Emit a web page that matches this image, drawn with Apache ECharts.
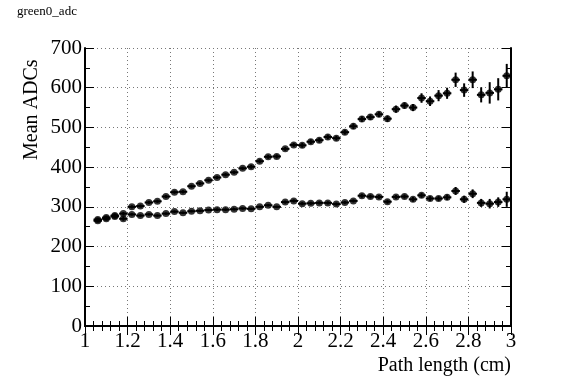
<!DOCTYPE html>
<html>
<head>
<meta charset="utf-8">
<script src="https://cdn.jsdelivr.net/npm/echarts@6/dist/echarts.min.js"></script>
<style>
  html, body { margin: 0; padding: 0; background: #fff; }
  #chart { width: 567px; height: 384px; }
</style>
</head>
<body>
<div id="chart"></div>
<script>
// bin centres (cm)
const pathLength = [
  1.06, 1.10, 1.14, 1.18, 1.22, 1.26, 1.30, 1.34, 1.38, 1.42,
  1.46, 1.50, 1.54, 1.58, 1.62, 1.66, 1.70, 1.74, 1.78, 1.82,
  1.86, 1.90, 1.94, 1.98, 2.02, 2.06, 2.10, 2.14, 2.18, 2.22,
  2.26, 2.30, 2.34, 2.38, 2.42, 2.46, 2.50, 2.54, 2.58, 2.62,
  2.66, 2.70, 2.74, 2.78, 2.82, 2.86, 2.90, 2.94, 2.98
];
const halfBin = 0.02;

// upper branch
const meanUpper = [
  268, 273, 278, 283, 300, 302, 311, 314, 326, 337,
  338, 352, 359, 367, 374, 381, 387, 397, 401, 415,
  426, 427, 446, 456, 455, 464, 468, 476, 473, 488,
  503, 521, 526, 533, 522, 546, 555, 550, 574, 566,
  580, 586, 620, 594, 620, 582, 587, 596, 630
];
const errUpper = [
  4, 4, 4, 4, 4, 4, 4, 4, 4, 4,
  4, 4, 4, 4, 4, 4, 4, 4, 5, 5,
  5, 5, 5, 5, 6, 6, 6, 6, 6, 6,
  7, 7, 7, 7, 8, 9, 8, 9, 12, 12,
  14, 14, 18, 17, 21, 19, 27, 28, 30
];

// lower branch
const meanLower = [
  265, 270, 276, 270, 281, 278, 281, 278, 283, 288,
  285, 289, 290, 292, 293, 293, 294, 296, 295, 300,
  304, 300, 312, 315, 308, 309, 310, 310, 307, 311,
  315, 328, 326, 325, 313, 325, 326, 319, 329, 321,
  321, 324, 340, 319, 333, 310, 308, 312, 319
];
const errLower = [
  3, 3, 3, 5, 3, 3, 3, 3, 3, 3,
  3, 3, 3, 3, 3, 3, 3, 3, 3, 3,
  3, 3, 4, 4, 4, 4, 4, 4, 4, 4,
  4, 5, 5, 5, 5, 5, 5, 6, 6, 6,
  6, 7, 10, 9, 11, 10, 12, 12, 19
];

function points(mean, err) {
  return pathLength.map((x, i) => [x, mean[i], err[i]]);
}

function errorBars(api) {
  const x = api.value(0), y = api.value(1), e = api.value(2);
  const a = api.coord([x, y - e]), b = api.coord([x, y + e]);
  const l = api.coord([x - halfBin, y]), r = api.coord([x + halfBin, y]);
  const st = { stroke: '#000', lineWidth: 2 };
  return {
    type: 'group',
    children: [
      { type: 'line', shape: { x1: a[0], y1: a[1], x2: b[0], y2: b[1] }, style: st },
      { type: 'line', shape: { x1: l[0], y1: l[1], x2: r[0], y2: r[1] }, style: st }
    ]
  };
}

const font = 'Liberation Serif';
const chart = echarts.init(document.getElementById('chart'));

const hiddenAxis = {
  axisLine: { show: true, lineStyle: { color: '#000', width: 2 } },
  axisLabel: { show: false },
  splitLine: { show: false }
};

chart.setOption({
  animation: false,
  grid: { left: 85, right: 56, top: 48, bottom: 58 },
  xAxis: [{
    type: 'value', min: 1, max: 3, interval: 0.2,
    axisLine: { onZero: false, lineStyle: { color: '#000', width: 2 } },
    axisTick: { inside: true, length: 9, lineStyle: { color: '#000' } },
    minorTick: { show: true, splitNumber: 5, length: 5, lineStyle: { color: '#000' } },
    splitLine: { show: true, lineStyle: { color: '#777', type: [1, 3] } },
    axisLabel: { color: '#000', fontFamily: font, fontSize: 21, margin: 5,
      formatter: v => String(+v.toFixed(1)) }
  }, Object.assign({
    type: 'value', min: 1, max: 3, interval: 0.2, position: 'top',
    axisTick: { inside: true, length: 9, lineStyle: { color: '#000' } },
    minorTick: { show: true, splitNumber: 5, length: 5, lineStyle: { color: '#000' } }
  }, hiddenAxis)],
  yAxis: [{
    type: 'value', min: 0, max: 700, interval: 100,
    axisLine: { show: true, onZero: false, lineStyle: { color: '#000', width: 2 } },
    axisTick: { show: true, inside: true, length: 9, lineStyle: { color: '#000' } },
    minorTick: { show: true, splitNumber: 2, length: 5, lineStyle: { color: '#000' } },
    splitLine: { show: true, lineStyle: { color: '#777', type: [1, 3] } },
    axisLabel: { color: '#000', fontFamily: font, fontSize: 21, margin: 3 }
  }, Object.assign({
    type: 'value', min: 0, max: 700, interval: 100, position: 'right',
    axisTick: { show: true, inside: true, length: 9, lineStyle: { color: '#000' } },
    minorTick: { show: true, splitNumber: 2, length: 5, lineStyle: { color: '#000' } }
  }, hiddenAxis)],
  graphic: [
    { type: 'text', left: 17, top: 5,
      style: { text: 'green0_adc', fontFamily: font, fontSize: 13, fill: '#000' } },
    { type: 'text', x: 22, y: 160, rotation: Math.PI / 2,
      style: { text: 'Mean ADCs', fontFamily: font, fontSize: 20, fill: '#000',
        align: 'left', verticalAlign: 'top' } },
    { type: 'text', x: 511, y: 356,
      style: { text: 'Path length (cm)', fontFamily: font, fontSize: 20, fill: '#000',
        align: 'right', verticalAlign: 'top' } }
  ],
  series: [
    { type: 'custom', renderItem: (p, api) => errorBars(api), data: points(meanUpper, errUpper), z: 2 },
    { type: 'custom', renderItem: (p, api) => errorBars(api), data: points(meanLower, errLower), z: 2 },
    { type: 'scatter', symbol: 'circle', symbolSize: 7, itemStyle: { color: '#000' },
      data: points(meanUpper, errUpper), z: 3 },
    { type: 'scatter', symbol: 'circle', symbolSize: 7, itemStyle: { color: '#000' },
      data: points(meanLower, errLower), z: 3 }
  ]
});
</script>
</body>
</html>
